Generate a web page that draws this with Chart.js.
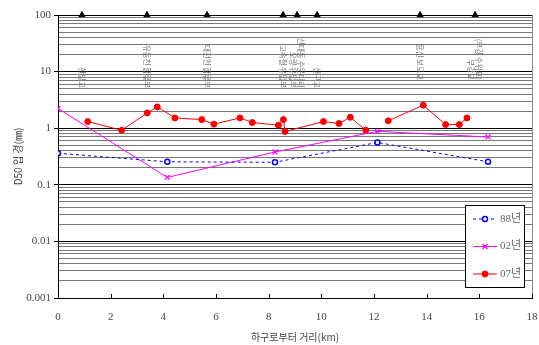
<!DOCTYPE html>
<html>
<head>
<meta charset="utf-8">
<script src="https://cdn.jsdelivr.net/npm/chart.js@4.4.0/dist/chart.umd.min.js"></script>
<style>
  body { margin: 0; background: #fff; }
  #wrap { width: 539px; height: 345px; }
</style>
</head>
<body>
<div id="wrap"><canvas id="dsoChart" width="539" height="345"></canvas></div>
<script>
// 하구로부터 거리(km) / D50 입경(mm)
const dist88 = [0, 4.15, 8.24, 12.13, 16.33];
const dso88 = [0.36, 0.255, 0.25, 0.56, 0.255];

const dist02 = [0, 4.15, 8.24, 12.13, 16.33];
const dso02 = [2.23, 0.135, 0.38, 0.88, 0.70];

const dist07 = [1.13, 2.42, 3.39, 3.77, 4.44, 5.46, 5.92, 6.91, 7.38, 8.37, 8.56, 8.62,
                10.08, 10.67, 11.1, 11.69, 12.1, 12.54, 13.87, 14.72, 15.24, 15.53];
const dso07 = [1.31, 0.92, 1.86, 2.38, 1.52, 1.42, 1.18, 1.52, 1.26, 1.13, 1.42, 0.875,
               1.31, 1.21, 1.56, 0.92, null, 1.35, 2.55, 1.16, 1.16, 1.52];

// 지점 표시 (▲)
const stationKm = [0.91, 3.38, 5.66, 8.55, 9.08, 9.84, 13.75, 15.84];
const stationNames = [
    ['한밭교'],
    ['유등천 합류부'],
    ['대전천 합류부'],
    ['고속철 유입부'],
    ['오량 유입부', '신대동 수문다리'],
    ['신구교'],
    ['용신 보도교'],
    ['부강교', '(부강 수위표)']
];
const stationTop = 100;

const xTicks = [0, 2, 4, 6, 8, 10, 12, 14, 16, 18];
const yMajor = [0.001, 0.01, 0.1, 1, 10, 100];
const seriesNames = ['88년', '02년', '07년'];

const serif = "'Liberation Serif', 'Noto Sans CJK KR', serif";
const textColor = '#444';

function pts(xs, ys) {
    return xs.map((x, i) => ({ x: x, y: ys[i] }));
}

// 로그축 눈금: 각 자리수마다 1~9
let yTicks = [];
for (let i = 0; i < yMajor.length - 1; i++) {
    for (let k = 1; k <= 9; k++) {
        yTicks.push(yMajor[i] * k);
    }
}
yTicks.push(yMajor[yMajor.length - 1]);

function isMajor(v) {
    return yMajor.some(m => Math.abs(v - m) / m < 1e-6);
}

const decor = {
    id: 'decor',
    afterDraw(chart) {
        const ctx = chart.ctx;
        const a = chart.chartArea;
        const xs = chart.scales.x;
        ctx.save();

        // right border
        ctx.strokeStyle = '#888';
        ctx.lineWidth = 1;
        ctx.beginPath();
        ctx.moveTo(a.right + 0.5, a.top);
        ctx.lineTo(a.right + 0.5, a.bottom);
        ctx.stroke();

        // x ticks (inward)
        ctx.strokeStyle = '#000';
        xTicks.forEach(t => {
            const px = Math.round(xs.getPixelForValue(t)) + 0.5;
            ctx.beginPath();
            ctx.moveTo(px, a.bottom);
            ctx.lineTo(px, a.bottom - 4);
            ctx.stroke();
        });

        // station names (vertical)
        ctx.fillStyle = '#777';
        ctx.font = "7.5px 'Noto Sans CJK KR', sans-serif";
        ctx.textAlign = 'right';
        ctx.textBaseline = 'middle';
        stationNames.forEach((lines, i) => {
            const px = xs.getPixelForValue(stationKm[i]);
            const bottom = i >= 6 ? 80 : 88;
            const n = lines.length;
            lines.forEach((txt, j) => {
                const off = (j - (n - 1) / 2) * 8;
                ctx.save();
                ctx.translate(px + off, bottom);
                ctx.rotate(Math.PI / 2);
                ctx.fillText(txt, 0, 0);
                ctx.restore();
            });
        });

        // legend box
        const lx = 465, ly = 205, lw = 59, lh = 82;
        ctx.fillStyle = '#fff';
        ctx.fillRect(lx, ly, lw, lh);
        ctx.strokeStyle = '#000';
        ctx.lineWidth = 1;
        ctx.strokeRect(lx + 0.5, ly + 0.5, lw, lh);
        const ds = chart.data.datasets;
        [0, 1, 2].forEach(i => {
            const d = ds[i];
            const y = ly + 14 + i * 27.5;
            ctx.strokeStyle = d.borderColor;
            ctx.lineWidth = 1;
            ctx.setLineDash(d.borderDash || []);
            ctx.beginPath();
            ctx.moveTo(lx + 8, y);
            ctx.lineTo(lx + 32, y);
            ctx.stroke();
            ctx.setLineDash([]);
            ctx.fillStyle = d.pointBackgroundColor || d.borderColor;
            ctx.strokeStyle = d.pointBorderColor;
            ctx.lineWidth = d.pointBorderWidth || 1;
            Chart.helpers.drawPoint(ctx, {
                pointStyle: d.pointStyle,
                radius: d.pointRadius,
                borderWidth: d.pointBorderWidth || 1
            }, lx + 20, y);
            ctx.fillStyle = '#666';
            ctx.font = '11px ' + serif;
            ctx.textAlign = 'left';
            ctx.textBaseline = 'middle';
            ctx.fillText(seriesNames[i], lx + 35, y);
        });
        ctx.restore();
    }
};

new Chart(document.getElementById('dsoChart'), {
    type: 'scatter',
    data: {
        datasets: [
            {
                label: seriesNames[0],
                data: pts(dist88, dso88),
                showLine: true,
                borderColor: '#0000ff',
                backgroundColor: '#ffffff',
                borderWidth: 1,
                borderDash: [3, 3],
                pointStyle: 'circle',
                pointRadius: 2.5,
                pointBorderWidth: 1.5,
                pointBorderColor: '#0000ff',
                pointBackgroundColor: '#ffffff'
            },
            {
                label: seriesNames[1],
                data: pts(dist02, dso02),
                showLine: true,
                borderColor: '#ff00ff',
                backgroundColor: '#ff00ff',
                borderWidth: 1,
                pointStyle: 'crossRot',
                pointRadius: 3.5,
                pointBorderWidth: 1.2,
                pointBorderColor: '#ff00ff',
                pointBackgroundColor: '#ff00ff'
            },
            {
                label: seriesNames[2],
                data: pts(dist07, dso07),
                showLine: true,
                spanGaps: false,
                borderColor: '#ff0000',
                backgroundColor: '#ff0000',
                borderWidth: 1,
                pointStyle: 'circle',
                pointRadius: 3,
                pointBorderWidth: 1,
                pointBorderColor: '#ff0000',
                pointBackgroundColor: '#ff0000'
            },
            {
                label: 'station',
                data: stationKm.map(x => ({ x: x, y: stationTop })),
                showLine: false,
                clip: false,
                pointStyle: 'triangle',
                pointRadius: 3.5,
                pointBorderWidth: 1,
                pointBorderColor: '#000',
                pointBackgroundColor: '#000'
            }
        ]
    },
    options: {
        responsive: false,
        animation: false,
        layout: { padding: { top: 15, right: 7, left: 0, bottom: 0 } },
        plugins: {
            legend: { display: false },
            tooltip: { enabled: false }
        },
        scales: {
            x: {
                type: 'linear',
                min: 0,
                max: 18,
                afterBuildTicks: s => { s.ticks = xTicks.map(v => ({ value: v })); },
                afterFit: s => {
                    s.height = 47;
                    s.paddingLeft = 0;
                    s.paddingRight = 0;
                },
                grid: { display: false, drawTicks: false },
                border: { display: true, color: '#000', width: 1 },
                ticks: {
                    padding: 13,
                    maxRotation: 0,
                    color: textColor,
                    font: { family: serif, size: 11 }
                },
                title: {
                    display: true,
                    text: '하구로부터 거리(km)',
                    color: textColor,
                    font: { family: "'Noto Sans CJK KR', sans-serif", size: 10 },
                    padding: { top: 0, bottom: 2 }
                }
            },
            y: {
                type: 'logarithmic',
                min: 0.001,
                max: 100,
                afterBuildTicks: s => { s.ticks = yTicks.map(v => ({ value: v, major: isMajor(v) })); },
                afterFit: s => {
                    s.width = 58;
                    s.paddingTop = 0;
                    s.paddingBottom = 0;
                },
                grid: {
                    color: ctx => ctx.tick && isMajor(ctx.tick.value) ? '#000' : '#777',
                    lineWidth: 1,
                    drawTicks: true,
                    tickLength: 4,
                    tickColor: ctx => ctx.tick && isMajor(ctx.tick.value) ? '#000' : 'rgba(0,0,0,0)'
                },
                border: { display: true, color: '#000', width: 1 },
                ticks: {
                    autoSkip: false,
                    padding: 3,
                    color: textColor,
                    font: { family: serif, size: 11 },
                    callback: v => isMajor(v) ? String(v) : ''
                },
                title: {
                    display: true,
                    text: 'D50 입 경(㎜)',
                    color: textColor,
                    font: { family: "'Noto Sans CJK KR', sans-serif", size: 10 },
                    padding: { top: 12, bottom: 0 }
                }
            }
        }
    },
    plugins: [decor]
});
</script>
</body>
</html>
